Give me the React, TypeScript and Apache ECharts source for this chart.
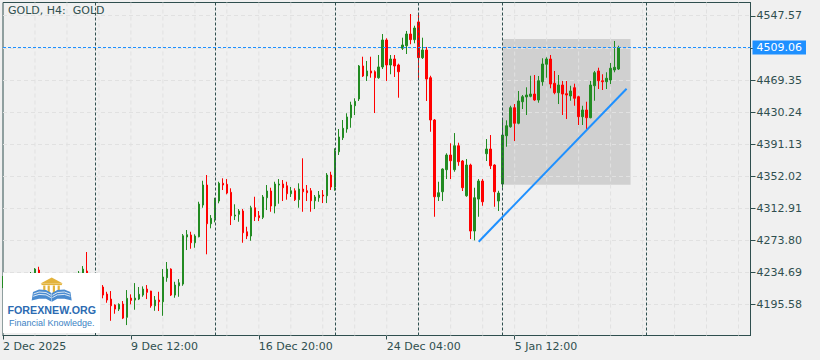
import React, { useEffect, useRef } from "react";
import * as echarts from "echarts";

// ---- data (GOLD, H4) ----
const OPEN = [
  4219.4, 4226.7, 4220.6, 4224.3, 4215.7, 4209.6, 4218.2, 4225.5, 4232.8, 4237.7,
  4230.4, 4221.8, 4226.7, 4217.0, 4210.9, 4215.7, 4221.8, 4218.2, 4225.5, 4230.4,
  4234.0, 4236.5, 4227.9, 4221.8, 4225.5, 4217.0, 4208.4, 4202.3, 4195.0, 4190.1,
  4196.2, 4180.0, 4203.5, 4201.1, 4202.3, 4207.2, 4214.5, 4212.1, 4194.1, 4201.1,
  4199.0, 4228.3, 4238.9, 4207.2, 4218.5, 4220.6, 4278.0, 4280.4, 4271.0, 4278.3,
  4317.0, 4341.4, 4294.2, 4300.8, 4321.9, 4343.5, 4342.3, 4332.5, 4303.6, 4305.7,
  4309.7, 4284.4, 4279.2, 4313.7, 4303.9, 4302.0, 4325.9, 4334.1, 4315.8, 4341.4,
  4342.6, 4340.5, 4330.8, 4334.4, 4323.5, 4336.5, 4334.4, 4334.4, 4322.2, 4325.9,
  4329.2, 4328.3, 4353.6, 4339.0, 4382.0, 4399.1, 4409.7, 4423.5, 4438.1, 4446.3,
  4486.6, 4474.4, 4480.5, 4479.6, 4472.3, 4485.4, 4518.3, 4487.8, 4495.1, 4487.8,
  4508.2, 4511.3, 4525.6, 4518.7, 4540.3, 4496.7, 4506.1, 4472.3, 4420.7, 4327.1,
  4333.2, 4360.1, 4378.0, 4360.1, 4389.3, 4370.7, 4328.3, 4365.8, 4285.3, 4324.3,
  4346.3, 4379.6, 4385.3, 4365.8, 4321.9, 4342.6, 4401.5, 4412.5, 4435.7, 4416.7,
  4443.0, 4448.8, 4449.6, 4452.4, 4445.1, 4467.4, 4488.7, 4495.1, 4465.5, 4454.0,
  4463.4, 4452.8, 4450.0, 4460.1, 4449.1, 4424.7, 4432.9, 4423.5, 4462.5, 4480.5,
  4468.6, 4467.4, 4469.5, 4481.7, 4482.9,
];
const CLOSE = [
  4226.7, 4220.6, 4224.3, 4215.7, 4209.6, 4218.2, 4225.5, 4232.8, 4238.9, 4230.4,
  4221.8, 4226.7, 4217.0, 4210.9, 4215.7, 4221.8, 4218.2, 4225.5, 4230.4, 4234.0,
  4238.9, 4227.9, 4221.8, 4225.5, 4217.0, 4207.2, 4201.1, 4194.1, 4190.1, 4195.9,
  4179.1, 4203.2, 4200.7, 4203.5, 4208.1, 4214.5, 4210.5, 4194.1, 4201.1, 4199.0,
  4229.2, 4238.9, 4207.2, 4219.4, 4222.2, 4279.5, 4280.8, 4271.0, 4279.2, 4318.2,
  4341.4, 4294.2, 4300.8, 4323.1, 4343.5, 4341.4, 4331.6, 4303.9, 4304.8, 4309.7,
  4283.2, 4279.2, 4313.7, 4302.7, 4301.5, 4326.8, 4334.1, 4315.8, 4342.6, 4342.6,
  4338.1, 4330.8, 4334.4, 4323.5, 4336.5, 4333.2, 4332.0, 4322.2, 4326.8, 4329.2,
  4328.0, 4353.6, 4339.0, 4382.9, 4400.0, 4410.6, 4424.4, 4439.0, 4443.5, 4486.6,
  4474.4, 4480.5, 4478.0, 4472.3, 4485.4, 4518.3, 4487.8, 4495.1, 4486.6, 4479.6,
  4512.2, 4525.6, 4518.7, 4532.9, 4496.7, 4506.1, 4470.7, 4420.7, 4327.1, 4332.0,
  4360.9, 4378.0, 4371.0, 4389.3, 4369.8, 4338.1, 4365.8, 4285.3, 4325.9, 4346.3,
  4321.0, 4385.3, 4364.9, 4333.2, 4331.6, 4402.4, 4413.7, 4435.7, 4416.7, 4443.9,
  4449.1, 4451.2, 4452.4, 4445.1, 4468.6, 4489.0, 4495.1, 4464.6, 4454.0, 4463.4,
  4452.4, 4451.2, 4456.1, 4447.2, 4424.7, 4432.9, 4423.5, 4463.4, 4478.4, 4468.6,
  4467.4, 4471.6, 4483.8, 4485.0, 4509.06,
];
const LOW = [
  4215.7, 4217.0, 4218.2, 4213.3, 4206.0, 4207.2, 4215.7, 4223.1, 4230.4, 4226.7,
  4219.4, 4219.4, 4214.5, 4208.4, 4207.2, 4213.3, 4214.5, 4215.7, 4221.8, 4227.9,
  4230.4, 4224.3, 4219.4, 4218.2, 4214.5, 4203.2, 4197.8, 4175.8, 4184.4, 4187.7,
  4177.9, 4170.6, 4195.9, 4189.3, 4201.1, 4205.1, 4202.3, 4191.7, 4188.0, 4187.7,
  4181.9, 4223.4, 4206.0, 4203.9, 4205.1, 4218.5, 4262.1, 4263.7, 4264.9, 4277.6,
  4313.7, 4256.9, 4288.6, 4295.9, 4319.1, 4335.3, 4330.1, 4292.6, 4298.7, 4296.6,
  4271.0, 4275.5, 4273.4, 4297.5, 4297.5, 4299.9, 4310.9, 4308.8, 4306.9, 4318.6,
  4321.9, 4323.5, 4326.8, 4321.9, 4313.7, 4308.8, 4321.9, 4308.8, 4312.1, 4321.0,
  4319.4, 4319.4, 4335.3, 4334.4, 4378.0, 4396.3, 4405.2, 4411.3, 4426.8, 4443.9,
  4473.2, 4468.3, 4472.3, 4429.2, 4471.0, 4482.9, 4468.3, 4476.5, 4473.2, 4447.9,
  4506.1, 4501.2, 4513.1, 4514.3, 4470.7, 4495.1, 4443.9, 4406.4, 4302.7, 4321.9,
  4321.9, 4348.7, 4348.7, 4357.6, 4364.9, 4334.1, 4327.1, 4275.5, 4273.9, 4302.7,
  4316.1, 4370.7, 4360.9, 4314.9, 4309.7, 4338.1, 4388.1, 4411.3, 4395.1, 4415.5,
  4434.1, 4426.8, 4448.4, 4444.2, 4441.8, 4462.5, 4472.3, 4459.4, 4452.1, 4440.2,
  4426.8, 4421.9, 4444.2, 4438.1, 4414.6, 4414.6, 4409.7, 4422.8, 4444.2, 4458.5,
  4457.3, 4458.5, 4464.6, 4478.9, 4481.7,
];
const HIGH = [
  4230.4, 4229.2, 4226.7, 4226.7, 4218.2, 4220.6, 4227.9, 4235.3, 4240.1, 4241.7,
  4232.8, 4229.2, 4227.9, 4219.4, 4218.2, 4224.3, 4225.5, 4227.9, 4232.8, 4236.5,
  4242.6, 4259.7, 4230.4, 4227.9, 4226.7, 4219.4, 4211.2, 4212.1, 4195.9, 4197.1,
  4199.9, 4213.3, 4208.1, 4221.8, 4217.0, 4217.8, 4219.4, 4212.4, 4206.0, 4211.2,
  4238.9, 4247.5, 4239.8, 4223.4, 4226.7, 4281.6, 4286.5, 4284.4, 4281.3, 4321.0,
  4346.6, 4353.6, 4304.8, 4325.9, 4345.4, 4349.6, 4348.7, 4337.4, 4317.9, 4312.1,
  4312.1, 4290.5, 4316.1, 4327.1, 4309.7, 4329.2, 4341.4, 4338.1, 4345.4, 4348.7,
  4347.5, 4345.4, 4339.0, 4337.4, 4343.5, 4374.0, 4341.4, 4337.7, 4329.2, 4334.1,
  4335.3, 4356.0, 4357.6, 4386.2, 4409.7, 4420.7, 4428.9, 4443.0, 4447.2, 4487.8,
  4497.9, 4492.7, 4497.9, 4481.3, 4500.0, 4525.6, 4520.4, 4500.0, 4500.0, 4489.4,
  4521.1, 4529.3, 4550.0, 4535.7, 4550.0, 4521.1, 4509.8, 4474.7, 4421.9, 4345.4,
  4361.8, 4380.1, 4392.3, 4404.8, 4393.0, 4371.9, 4373.1, 4367.4, 4338.1, 4348.7,
  4348.7, 4397.5, 4402.4, 4366.7, 4334.4, 4420.7, 4420.3, 4438.1, 4440.2, 4456.1,
  4451.2, 4460.6, 4474.7, 4475.6, 4474.4, 4496.0, 4497.2, 4500.0, 4480.5, 4475.6,
  4468.3, 4468.3, 4462.5, 4465.0, 4450.3, 4438.1, 4443.0, 4468.3, 4480.5, 4484.5,
  4476.5, 4478.9, 4490.2, 4517.1, 4511.3,
];

// time axis: bar slots (data bars + empty right shift), labelled slots
const SLOT_COUNT = 188;
const LABEL_SLOTS = [0, 32, 64, 96, 128];
const LABEL_TEXTS = ["2 Dec 2025", "9 Dec 12:00", "16 Dec 20:00", "24 Dec 04:00", "5 Jan 12:00"];
const SEPARATOR_SLOTS = [23, 53, 83, 104, 125, 161];
const GRID_SLOTS = [8, 16, 24, 32, 40, 48, 56, 64, 72, 80, 88, 96, 104, 112, 120, 128, 136, 144, 152, 160, 168, 176, 184];

// price axis
const PRICE_TICKS = [4195.58, 4234.69, 4273.8, 4312.91, 4352.02, 4391.13, 4430.24, 4469.35, 4508.46, 4547.57];
const HIDDEN_TICK = 4508.46;
const Y_MIN = 4157.87;
const Y_MAX = 4564.03;
const LAST_PRICE = 4509.06;

// drawn objects
const TREND_START = [119, 4272.3];
const TREND_END = [156, 4458.9];
const BOX = [125, 4519.5, 157, 4341.8];

const FRAME = "#2F4F4F";
const UP = "#228B22";
const DOWN = "#FF0000";
const BLUE = "#1E90FF";
const GRID_COLOR = "#E1E1E1";
const FONT = "DejaVu Sans";

export default function App() {
  const ref = useRef<HTMLDivElement>(null);

  useEffect(() => {
    if (!ref.current) return;
    const chart = echarts.init(ref.current, undefined, { renderer: "svg" });
    const slots = Array.from({ length: SLOT_COUNT }, (_, i) => String(i));
    const ohlc = OPEN.map((o, i) => [o, CLOSE[i], LOW[i], HIGH[i]]);
    const showSlot = (i: number) => LABEL_SLOTS.indexOf(i) >= 0;

    const bookColor = "#4A8BCF";
    const gold = "#E3B33C";

    const option: any = {
      animation: false,
      backgroundColor: "#F0F0F0",
      textStyle: { fontFamily: FONT },
      grid: {
        left: 2.5,
        right: 69.5,
        top: 2.5,
        bottom: 24.5,
        show: true,
        borderColor: FRAME,
        borderWidth: 1,
        backgroundColor: "transparent",
      },
      xAxis: {
        type: "category",
        data: slots,
        boundaryGap: false,
        axisLine: { show: true, lineStyle: { color: FRAME, width: 1 } },
        axisTick: { show: true, interval: (i: number) => showSlot(i), length: 4, lineStyle: { color: FRAME } },
        axisLabel: {
          show: true,
          interval: (i: number) => showSlot(i),
          formatter: (_v: string, i: number) => {
            const k = LABEL_SLOTS.indexOf(i);
            return k >= 0 ? LABEL_TEXTS[k] : "";
          },
          align: "left",
          margin: 5,
          color: FRAME,
          fontSize: 11,
          fontFamily: FONT,
        },
        splitLine: { show: false },
      },
      yAxis: {
        type: "value",
        position: "right",
        min: Y_MIN,
        max: Y_MAX,
        axisLine: { show: true, lineStyle: { color: FRAME, width: 1 } },
        axisTick: { show: true, length: 5, inside: false, customValues: PRICE_TICKS, lineStyle: { color: FRAME } },
        axisLabel: {
          customValues: PRICE_TICKS.filter((v) => v !== HIDDEN_TICK),
          formatter: (v: number) => v.toFixed(2),
          margin: 6,
          color: FRAME,
          fontSize: 11,
          fontFamily: FONT,
        },
        splitLine: { show: false },
      },
      graphic: [
        {
          type: "text",
          x: 8,
          y: 5,
          z: 20,
          style: { text: "GOLD, H4:\u00a0 GOLD", font: `11px "${FONT}"`, fill: FRAME },
        },
        {
          type: "group",
          x: 3,
          y: 273,
          z: 20,
          children: [
            { type: "rect", z: 20, shape: { x: 0, y: 0, width: 97, height: 60 }, style: { fill: "#FFFFFF" } },
            { type: "polygon", z: 21, shape: { points: [[37.5, 10.5], [48.7, 4.5], [59.9, 10.5]] }, style: { fill: gold } },
            { type: "rect", z: 21, shape: { x: 38.5, y: 10.5, width: 20.4, height: 1.6 }, style: { fill: gold } },
            { type: "rect", z: 21, shape: { x: 40.2, y: 12.5, width: 2.2, height: 8 }, style: { fill: gold } },
            { type: "rect", z: 21, shape: { x: 44.6, y: 12.5, width: 2.2, height: 8 }, style: { fill: gold } },
            { type: "rect", z: 21, shape: { x: 49.8, y: 12.5, width: 2.2, height: 8 }, style: { fill: gold } },
            { type: "rect", z: 21, shape: { x: 54.6, y: 12.5, width: 2.2, height: 8 }, style: { fill: gold } },
            {
              type: "polygon",
              z: 22,
              shape: { points: [[28.7, 27.5], [30, 19], [36, 16.5], [43, 17], [48.5, 20], [48.5, 28.7], [43, 25.8], [36, 25.8]] },
              style: { fill: bookColor },
            },
            {
              type: "polygon",
              z: 22,
              shape: { points: [[68.7, 27.5], [67.4, 19], [61.4, 16.5], [54.4, 17], [48.9, 20], [48.9, 28.7], [54.4, 25.8], [61.4, 25.8]] },
              style: { fill: bookColor },
            },
            { type: "polyline", z: 23, shape: { points: [[30.5, 21], [36, 19], [43, 19.5], [48, 22.3]] }, style: { stroke: "#FFFFFF", lineWidth: 0.8, fill: null } },
            { type: "polyline", z: 23, shape: { points: [[30.2, 23.3], [36, 21.4], [43, 21.9], [48, 24.6]] }, style: { stroke: "#FFFFFF", lineWidth: 0.8, fill: null } },
            { type: "polyline", z: 23, shape: { points: [[67, 21], [61.4, 19], [54.4, 19.5], [49.4, 22.3]] }, style: { stroke: "#FFFFFF", lineWidth: 0.8, fill: null } },
            { type: "polyline", z: 23, shape: { points: [[67.3, 23.3], [61.4, 21.4], [54.4, 21.9], [49.4, 24.6]] }, style: { stroke: "#FFFFFF", lineWidth: 0.8, fill: null } },
            {
              type: "text",
              z: 23,
              x: 4.5,
              y: 37,
              style: { text: "FOREXNEW.ORG", font: 'bold 10.7px "Liberation Sans"', fill: "#2C6BB2", verticalAlign: "middle" },
            },
            {
              type: "text",
              z: 23,
              x: 6,
              y: 49.8,
              style: { text: "Financial Knowledge.", font: '9px "Liberation Sans"', fill: "#3C82C4", verticalAlign: "middle" },
            },
          ],
        },
      ],
      series: [
        {
          type: "custom",
          z: 1,
          silent: true,
          data: [BOX],
          renderItem: (_params: any, api: any) => {
            const a = api.coord([api.value(0), api.value(1)]);
            const b = api.coord([api.value(2), api.value(3)]);
            return {
              type: "rect",
              shape: { x: a[0], y: a[1], width: b[0] - a[0], height: b[1] - a[1] },
              style: { fill: "#D0D0D0" },
            };
          },
        },
        {
          type: "custom",
          z: 2,
          silent: true,
          data: [[0, Y_MIN]],
          renderItem: (params: any, api: any) => {
            const cs = params.coordSys;
            const children: any[] = [];
            PRICE_TICKS.forEach((v) => {
              const y = Math.round(api.coord([0, v])[1] - 0.5) + 0.5;
              children.push({
                type: "line",
                shape: { x1: cs.x, y1: y, x2: cs.x + cs.width, y2: y },
                style: { stroke: GRID_COLOR, lineWidth: 1, lineDash: [4, 3] },
              });
            });
            GRID_SLOTS.forEach((s) => {
              const x = api.coord([s, Y_MIN])[0];
              children.push({
                type: "line",
                shape: { x1: x, y1: cs.y, x2: x, y2: cs.y + cs.height },
                style: { stroke: GRID_COLOR, lineWidth: 1, lineDash: [4, 3] },
              });
            });
            return { type: "group", children };
          },
        },
        {
          type: "candlestick",
          z: 3,
          data: ohlc,
          barWidth: 2,
          itemStyle: {
            color: UP,
            color0: DOWN,
            borderColor: UP,
            borderColor0: DOWN,
            borderWidth: 1,
          },
          markLine: {
            silent: true,
            symbol: ["none", "none"],
            label: { show: false },
            data: [
              ...SEPARATOR_SLOTS.map((s) => ({
                xAxis: s,
                lineStyle: { color: FRAME, type: [3, 2], width: 1 },
              })),
              [
                { coord: TREND_START, lineStyle: { color: BLUE, width: 2, type: "solid" } },
                { coord: TREND_END },
              ],
              {
                yAxis: LAST_PRICE,
                lineStyle: { color: BLUE, type: [3, 2], width: 1 },
                label: {
                  show: true,
                  position: "end",
                  formatter: LAST_PRICE.toFixed(2),
                  distance: 2,
                  color: "#FFFFFF",
                  backgroundColor: BLUE,
                  padding: [1, 4, 1, 4],
                  fontSize: 11,
                  lineHeight: 12,
                  fontFamily: FONT,
                },
              },
            ],
          },
        },
      ],
    };

    chart.setOption(option);
    return () => chart.dispose();
  }, []);

  return (
    <div
      ref={ref}
      style={{ position: "fixed", left: 0, top: 0, width: 820, height: 360, background: "#F0F0F0" }}
    />
  );
}
